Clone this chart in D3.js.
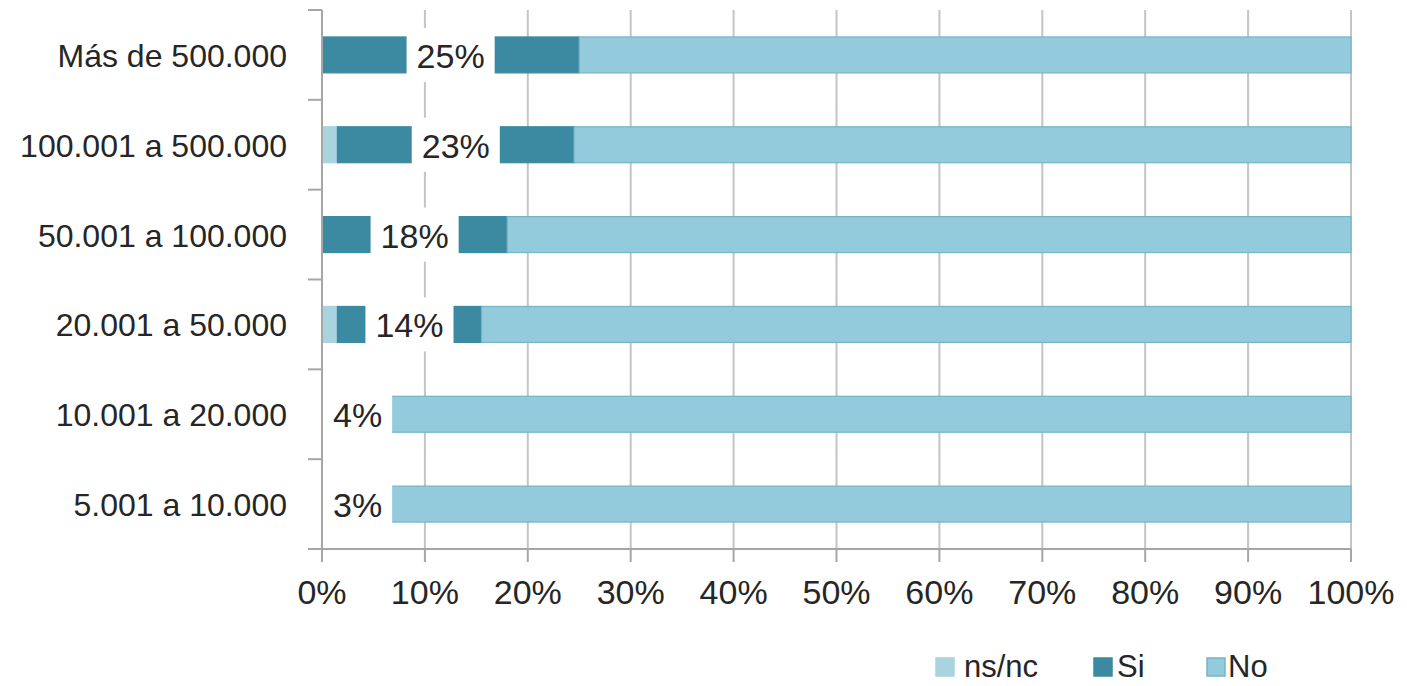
<!DOCTYPE html>
<html>
<head>
<meta charset="utf-8">
<script src="https://cdn.jsdelivr.net/npm/d3@7"></script>
<style>
  html, body { margin: 0; padding: 0; background: #ffffff; }
  svg { display: block; font-family: "Liberation Sans", Arial, sans-serif; }
</style>
</head>
<body>
<svg id="chart" width="1407" height="686"></svg>
<script>
// Municipalities grouped by population size
const categories = ["Más de 500.000", "100.001 a 500.000", "50.001 a 100.000",
                    "20.001 a 50.000", "10.001 a 20.000", "5.001 a 10.000"];
// Share of answers per group (percent)
const nsnc = [0, 1.5, 0, 1.5, 0, 0];
const si   = [25, 23, 18, 14, 4, 3];
const no   = [75, 75.5, 82, 84.5, 96, 97];
const seriesNames = ["ns/nc", "Si", "No"];
const xTicks = [0, 10, 20, 30, 40, 50, 60, 70, 80, 90, 100];

const colors = { "ns/nc": "#a9d3df", "Si": "#3b8aa1", "No": "#93cbdc" };
const strokes = { "ns/nc": "#a9d3df", "Si": "#3b8aa1", "No": "#74b5c8" };

const svg = d3.select("#chart");
const plotLeft = 322, plotRight = 1351, plotTop = 10, plotBottom = 549;

const x = d3.scaleLinear().domain([0, 100]).range([plotLeft, plotRight]);
const y = d3.scaleBand().domain(categories).range([plotTop, plotBottom])
  .paddingInner(0.6).paddingOuter(0.3);

// vertical gridlines
svg.append("g").selectAll("line")
  .data(xTicks.slice(1))
  .join("line")
  .attr("x1", d => x(d)).attr("x2", d => x(d))
  .attr("y1", plotTop).attr("y2", plotBottom)
  .attr("stroke", "#c4c4c4").attr("stroke-width", 2);

// stacked bars
const rows = categories.map((c, i) => ({ cat: c, "ns/nc": nsnc[i], "Si": si[i], "No": no[i] }));
const stack = d3.stack().keys(seriesNames)(rows);

svg.append("g").selectAll("g")
  .data(stack)
  .join("g")
  .each(function (layer) {
    d3.select(this).selectAll("rect")
      .data(layer.filter(d => d[1] - d[0] > 0))
      .join("rect")
      .attr("x", d => x(d[0]))
      .attr("y", d => y(d.data.cat))
      .attr("width", d => x(d[1]) - x(d[0]))
      .attr("height", y.bandwidth())
      .attr("fill", colors[layer.key])
      .attr("stroke", strokes[layer.key])
      .attr("stroke-width", 1.2);
  });

// value labels for "Si" on white boxes
const labelSize = 34, padX = 10, boxH = 54;
const labels = svg.append("g");
const siLayer = stack[1];
siLayer.forEach(d => {
  const cx = (x(d[0]) + x(d[1])) / 2;
  const cy = y(d.data.cat) + y.bandwidth() / 2;
  const t = labels.append("text")
    .attr("font-size", labelSize)
    .attr("fill", "#262626")
    .attr("text-anchor", "middle")
    .attr("dominant-baseline", "central")
    .text(d.data["Si"] + "%");
  const w = t.node().getComputedTextLength() + padX * 2;
  const bx = Math.max(plotLeft + 1, cx - w / 2);
  labels.insert("rect", "text")
    .attr("x", bx).attr("y", cy - boxH / 2)
    .attr("width", w).attr("height", boxH)
    .attr("fill", "#ffffff");
  t.attr("x", bx + w / 2).attr("y", cy + 1);
});

// axes
const axisColor = "#a6a6a6";
const axes = svg.append("g").attr("stroke", axisColor).attr("stroke-width", 2);
axes.append("line").attr("x1", plotLeft).attr("x2", plotLeft).attr("y1", plotTop).attr("y2", plotBottom);
axes.append("line").attr("x1", plotLeft - 14).attr("x2", plotRight).attr("y1", plotBottom).attr("y2", plotBottom);
d3.range(categories.length).forEach(i => {
  const yy = plotTop + i * y.step();
  axes.append("line").attr("x1", plotLeft - 14).attr("x2", plotLeft).attr("y1", yy).attr("y2", yy);
});
axes.selectAll("line.xt")
  .data(xTicks)
  .join("line")
  .attr("class", "xt")
  .attr("x1", d => x(d)).attr("x2", d => x(d))
  .attr("y1", plotBottom).attr("y2", plotBottom + 13);

// category labels
svg.append("g").selectAll("text")
  .data(categories)
  .join("text")
  .attr("x", plotLeft - 35)
  .attr("y", d => y(d) + y.bandwidth() / 2 + 1)
  .attr("text-anchor", "end")
  .attr("dominant-baseline", "central")
  .attr("font-size", 32)
  .attr("fill", "#262626")
  .text(d => d);

// x tick labels
svg.append("g").selectAll("text")
  .data(xTicks)
  .join("text")
  .attr("x", d => x(d))
  .attr("y", 604)
  .attr("text-anchor", "middle")
  .attr("font-size", 34)
  .attr("fill", "#262626")
  .text(d => d + "%");

// legend
const legendPos = [{ sq: 936, tx: 964 }, { sq: 1094, tx: 1117 }, { sq: 1207, tx: 1228 }];
const legend = svg.append("g");
seriesNames.forEach((name, i) => {
  legend.append("rect")
    .attr("x", legendPos[i].sq).attr("y", 658)
    .attr("width", 18).attr("height", 18)
    .attr("fill", colors[name])
    .attr("stroke", strokes[name]).attr("stroke-width", 1.5);
  legend.append("text")
    .attr("x", legendPos[i].tx).attr("y", 677)
    .attr("font-size", 31)
    .attr("fill", "#262626")
    .text(name);
});
</script>
</body>
</html>
